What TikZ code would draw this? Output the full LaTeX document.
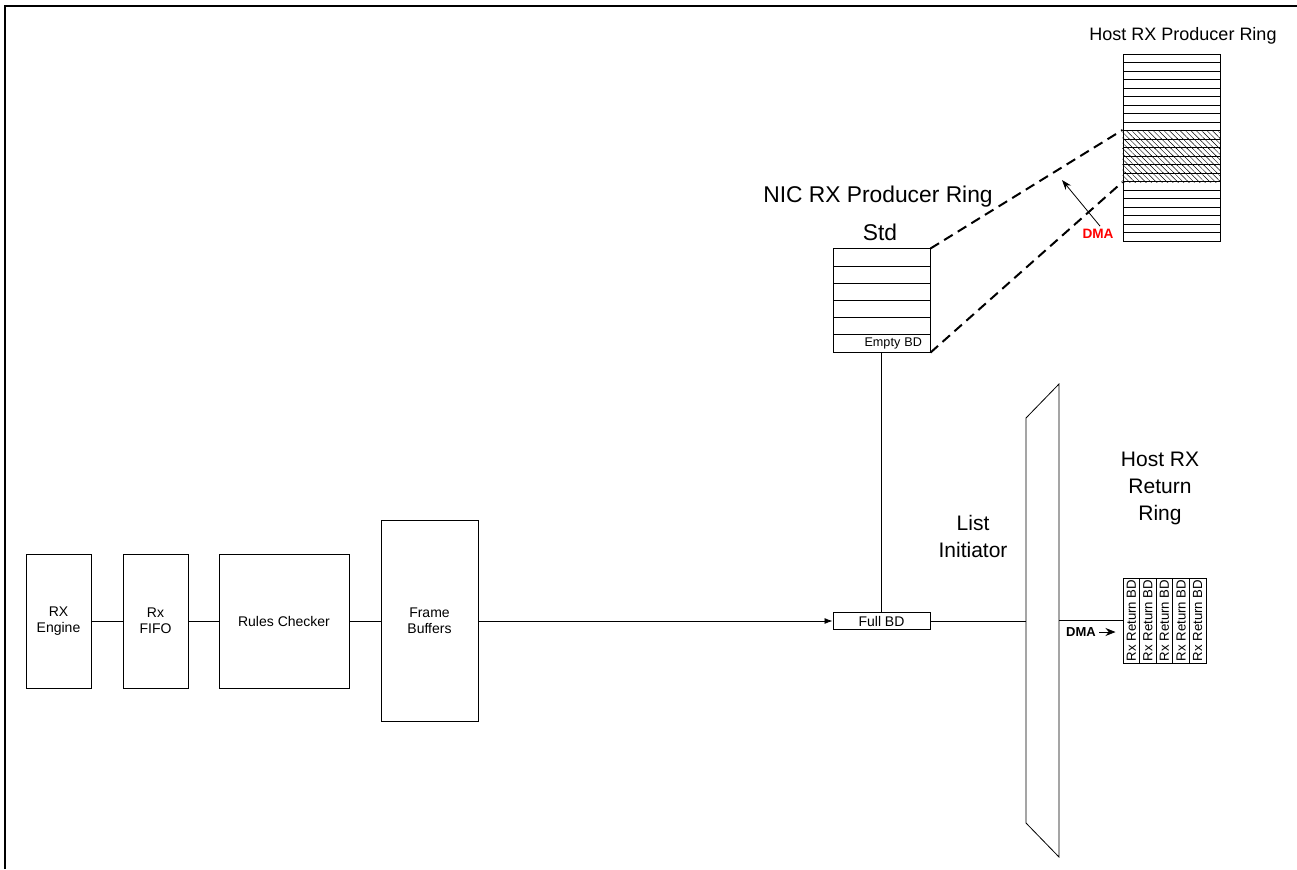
\documentclass[tikz,border=0pt]{standalone}
\usepackage{fontspec}
\setmainfont{Liberation Sans}
\usetikzlibrary{arrows.meta,patterns.meta,positioning,calc}
\tikzstyle{every node}+=[inner sep=0.5mm]
\tikzstyle{block}=[rectangle,draw,line width=0.5pt,align=center,minimum height=67pt,font=\fontsize{7}{8}\selectfont]
\tikzstyle{cell}=[rectangle,draw,line width=0.5pt,minimum width=48.5pt,minimum height=8.6pt,inner sep=0pt,font=\fontsize{6.3}{7}\selectfont]
\tikzstyle{hcell}=[rectangle,draw,line width=0.5pt,minimum width=48.5pt,minimum height=4.25pt,inner sep=0pt]
\tikzstyle{retcell}=[rectangle,draw,line width=0.5pt,rotate=90,minimum width=42.5pt,minimum height=8.3pt,inner sep=0.3pt,font=\fontsize{6.6}{7}\selectfont]
\tikzstyle{hatched}=[pattern={Lines[angle=-45,distance=1.9pt,line width=0.2pt]}]
\tikzstyle{dashline}=[line width=1pt,dash pattern=on 5pt off 3pt]
\tikzstyle{title}=[font=\fontsize{11.4}{13.5}\selectfont]
\tikzstyle{label}=[align=center,font=\fontsize{10.5}{13.5}\selectfont]

\begin{document}
\begin{tikzpicture}[x=0.5pt,y=-0.5pt]
\useasboundingbox (0,0) rectangle (1297,869);
\draw[line width=1pt] (5,869) -- (5,6) -- (1297,6);

% receive path
\node[block,minimum width=32.5pt] (eng) at (58.5,621) {RX\\Engine};
\node[block,minimum width=32.5pt] (fifo) at (155.5,621) {Rx\\FIFO};
\node[block,minimum width=65pt] (rules) at (284,621) {Rules Checker};
\node[block,minimum width=48.5pt,minimum height=100.5pt] (frame) at (429.5,621) {Frame\\Buffers};
\node[cell,font=\fontsize{7}{8}\selectfont] (full) at (881.5,621) {Full BD};

\draw (eng) -- (fifo);
\draw (fifo) -- (rules);
\draw (rules) -- (frame);
\draw[-{Latex[length=4pt,width=3pt]}] (frame) -- (full);

% NIC ring
\node[title] (ntitle) at (878,197) {NIC RX Producer Ring};
\node[title] (std) at (880,232) {Std};
\foreach \i in {1,...,5}
  \node[cell] (n\i) at (881.5,{249+(\i-0.5)*17.17}) {};
\node[cell,text width=40.5pt,align=right,inner xsep=4pt] (n6) at (881.5,{249+5.5*17.17}) {Empty BD};
\draw (n6) -- (full);

% host producer ring
\node[font=\fontsize{9}{11}\selectfont] (htitle) at (1183,36) {Host RX Producer Ring};
\foreach \i in {1,...,22}
  \node[hcell] (h\i) at (1171.5,{54+(\i-0.5)*8.5}) {};
\foreach \i in {10,...,15}
  \path[hatched] (h\i.south west) rectangle (h\i.north east);
\draw[dashline] (n1.north east) -- (h10.north west);
\draw[dashline] (n6.south east) -- (h15.south west);
\node[text=red,font=\bfseries\fontsize{6.8}{7}\selectfont] (dmah) at (1098,234) {DMA};
\coordinate (dmatip) at (1062,180);
\draw[-{Stealth[length=5pt,width=3.5pt]}] ([xshift=1pt]dmah.north) -- (dmatip);

% list initiator
\node[label] (litext) at (973,536) {List\\Initiator};
\coordinate (li1) at (1026,418);
\coordinate (li2) at (1059,384);
\coordinate (li3) at (1059,857);
\coordinate (li4) at (1026,823);
\draw (li1) -- (li2) -- (li3) -- (li4) -- cycle;
\draw (full) -- (full -| li1);

% host return ring
\node[label] (rtitle) at (1160,488) {Host RX\\Return\\Ring};
\foreach \i in {1,...,5}
  \node[retcell] (r\i) at ({1123+(\i-0.5)*16.6},620.5) {Rx Return BD};
\draw (r1.north -| li2) -- (r1.north);
\node[font=\bfseries\fontsize{6.5}{7}\selectfont] (dma) at (1081,632) {DMA};
\draw[-{Stealth[length=5pt,width=4pt]},shorten >=3.5pt] (dma.east) -- (dma.east -| r1.north);
\end{tikzpicture}
\end{document}
